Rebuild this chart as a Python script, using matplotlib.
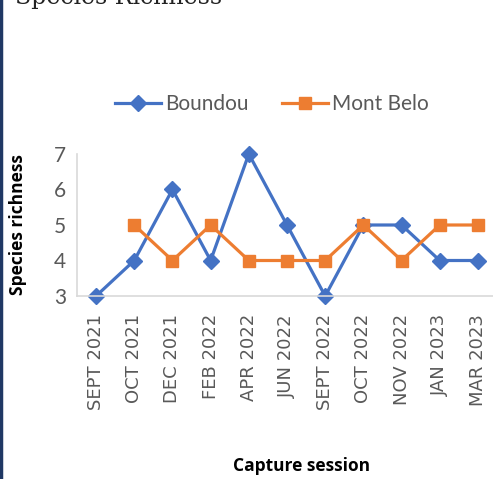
import numpy as np
import matplotlib
matplotlib.use("Agg")
import matplotlib.pyplot as plt
from matplotlib.lines import Line2D

# data
sessions = ["SEPT 2021", "OCT 2021", "DEC 2021", "FEB 2022", "APR 2022", "JUN 2022",
            "SEPT 2022", "OCT 2022", "NOV 2022", "JAN 2023", "MAR 2023"]
boundou = [3, 4, 6, 4, 7, 5, 3, 5, 5, 4, 4]
mont_belo = [np.nan, 5, 4, 5, 4, 4, 4, 5, 4, 5, 5]

blue = "#4472C4"
orange = "#ED7D31"
gray = "#595959"
font = ["Lato", "DejaVu Sans"]

fig = plt.figure(figsize=(4.93, 4.79), dpi=100)
ax = fig.add_axes([77 / 493, 1 - 296 / 479, 420 / 493, 142 / 479])

x = np.arange(len(sessions))
ax.plot(x, boundou, color=blue, lw=2.3, marker="D", ms=8, label="Boundou")
ax.plot(x, mont_belo, color=orange, lw=2.3, marker="s", ms=9, label="Mont Belo")

ax.set_xlim(-0.5, len(sessions) - 0.5)
ax.set_ylim(3, 7)
ax.set_yticks([3, 4, 5, 6, 7])
ax.set_xticks(x)
ax.set_xticklabels(sessions, rotation=90, family="DejaVu Sans", fontsize=13, color=gray)
for lab in ax.get_yticklabels():
    lab.set_family(font)
    lab.set_fontsize(15)
    lab.set_color(gray)
ax.tick_params(length=0, pad=8)
ax.tick_params(axis="x", pad=13)

for s in ["top", "right"]:
    ax.spines[s].set_visible(False)
for s in ["left", "bottom"]:
    ax.spines[s].set_color("#D9D9D9")
    ax.spines[s].set_linewidth(1.2)
for ln in ax.lines:
    ln.set_clip_on(False)

fig.text(18 / 493, 1 - 225 / 479, "Species richness", rotation=90, ha="center", va="center",
         fontsize=12.5, fontweight="bold", family=["Open Sans", "DejaVu Sans"])
fig.text(302 / 493, 1 - 466 / 479, "Capture session", ha="center", va="center",
         fontsize=12.5, fontweight="bold", family=["Open Sans", "DejaVu Sans"])

# title partly cut off at the top
fig.text(15 / 493, 1.005, "Species Richness", ha="left", va="center",
         fontsize=17, family="DejaVu Serif", color="#222222")

handles = [Line2D([], [], color=blue, lw=2.3, marker="D", ms=8),
           Line2D([], [], color=orange, lw=2.3, marker="s", ms=9)]
leg = fig.legend(handles, ["Boundou", "Mont Belo"], loc="center",
                 bbox_to_anchor=(272 / 493, 1 - 104 / 479), ncol=2, frameon=False,
                 prop={"family": font, "size": 15}, handlelength=2.2,
                 handletextpad=0.2, columnspacing=1.6)
for t in leg.get_texts():
    t.set_color(gray)

# left border of the original frame
fig.add_artist(Line2D([0.002, 0.002], [0, 1], color="#1F3864", lw=2.5,
                      transform=fig.transFigure))

fig.savefig("out.png", dpi=100)
